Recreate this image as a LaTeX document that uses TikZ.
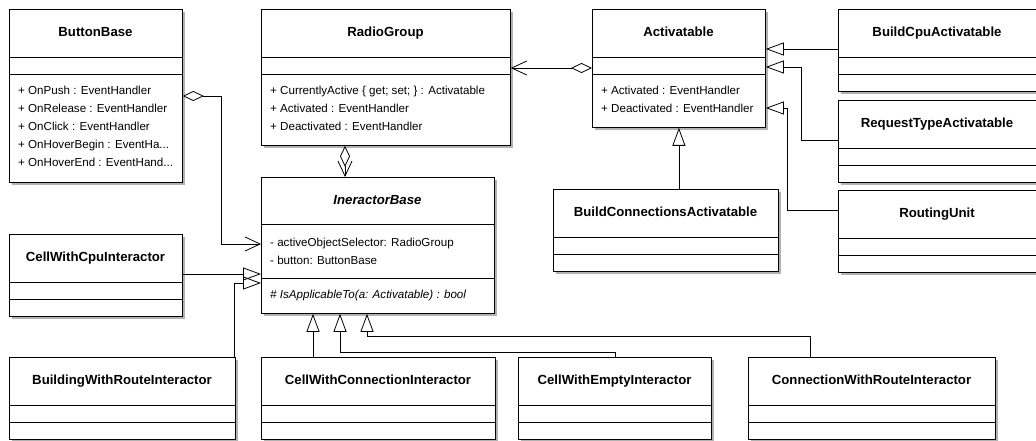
\documentclass[tikz,border=0pt]{standalone}
\usepackage{fontspec}
\setmainfont{Liberation Sans}
\usetikzlibrary{arrows.meta, shadows}
\tikzstyle{classbox} = [draw, fill=white, line width=0.8pt, inner sep=0pt, anchor=north west, drop shadow={shadow xshift=3pt, shadow yshift=-3pt, fill=black!30, opacity=1}]
\tikzstyle{classname} = [inner sep=0pt, text height=9.5pt, text depth=2.8pt, font=\fontsize{13.2}{15}\selectfont\bfseries]
\tikzstyle{member} = [anchor=west, inner sep=0pt, text height=8.4pt, text depth=2.4pt, font=\fontsize{11.6}{13}\selectfont]
\tikzstyle{divider} = [line width=0.8pt]
\tikzstyle{gen} = [line width=0.8pt, -{Triangle[open, length=18pt, width=13pt]}]
\tikzstyle{navaggr} = [line width=0.8pt, {Diamond[open, length=21pt, width=10pt]}-{Straight Barb[length=15pt, width=14pt]}]

\begin{document}
\begin{tikzpicture}[x=1pt, y=-1pt]
	\useasboundingbox (0,0) rectangle (1036,441);
	\clip (0,0) rectangle (1036,441);
	%ButtonBase
	\node[classbox, minimum width=173pt, minimum height=173pt] (btn) at (9,9) {};
	\node[classname] (btn-name) at (95.5,33) {ButtonBase};
	\draw[divider] (9,57) -- ++(173,0);
	\draw[divider] (9,74) -- ++(173,0);
	\node[member] (btn-a1) at (18,92) {+ OnPush : EventHandler};
	\node[member] (btn-a2) at (18,110) {+ OnRelease : EventHandler};
	\node[member] (btn-a3) at (18,128) {+ OnClick : EventHandler};
	\node[member] (btn-a4) at (18,146) {+ OnHoverBegin : EventHa...};
	\node[member] (btn-a5) at (18,164) {+ OnHoverEnd : EventHand...};
	%RadioGroup
	\node[classbox, minimum width=249pt, minimum height=136pt] (radio) at (261,9) {};
	\node[classname] (radio-name) at (385.5,33) {RadioGroup};
	\draw[divider] (261,57) -- ++(249,0);
	\draw[divider] (261,74) -- ++(249,0);
	\node[member] (radio-a1) at (270,92) {+ CurrentlyActive \{ get; set; \} : Activatable};
	\node[member] (radio-a2) at (270,110) {+ Activated : EventHandler};
	\node[member] (radio-a3) at (270,128) {+ Deactivated : EventHandler};
	%Activatable
	\node[classbox, minimum width=173pt, minimum height=118pt] (act) at (592,9) {};
	\node[classname] (act-name) at (678.5,33) {Activatable};
	\draw[divider] (592,57) -- ++(173,0);
	\draw[divider] (592,74) -- ++(173,0);
	\node[member] (act-a1) at (601,92) {+ Activated : EventHandler};
	\node[member] (act-a2) at (601,110) {+ Deactivated : EventHandler};
	%BuildCpuActivatable
	\node[classbox, minimum width=199pt, minimum height=82pt] (cpuact) at (838,9) {};
	\node[classname] (cpuact-name) at (937,33) {BuildCpuActivatable};
	\draw[divider] (838,57) -- ++(199,0);
	\draw[divider] (838,74) -- ++(199,0);
	%RequestTypeActivatable
	\node[classbox, minimum width=199pt, minimum height=82pt] (reqact) at (838,100) {};
	\node[classname] (reqact-name) at (937,124) {RequestTypeActivatable};
	\draw[divider] (838,148) -- ++(199,0);
	\draw[divider] (838,165) -- ++(199,0);
	%RoutingUnit
	\node[classbox, minimum width=199pt, minimum height=82pt] (route) at (838,190) {};
	\node[classname] (route-name) at (937,214) {RoutingUnit};
	\draw[divider] (838,238) -- ++(199,0);
	\draw[divider] (838,255) -- ++(199,0);
	%BuildConnectionsActivatable
	\node[classbox, minimum width=225pt, minimum height=82pt] (bca) at (553,189) {};
	\node[classname] (bca-name) at (665.5,213) {BuildConnectionsActivatable};
	\draw[divider] (553,237) -- ++(225,0);
	\draw[divider] (553,254) -- ++(225,0);
	%IneractorBase
	\node[classbox, minimum width=233pt, minimum height=136pt] (ib) at (261,177) {};
	\node[classname, font=\fontsize{13.2}{15}\selectfont\bfseries\itshape] (ib-name) at (377.5,201) {IneractorBase};
	\draw[divider] (261,224) -- ++(233,0);
	\draw[divider] (261,278) -- ++(233,0);
	\node[member] (ib-a1) at (270,243) {- activeObjectSelector: RadioGroup};
	\node[member] (ib-a2) at (270,261) {- button: ButtonBase};
	\node[member, font=\fontsize{11.6}{13}\selectfont\itshape] (ib-m1) at (270,295) {\# IsApplicableTo(a: Activatable) : bool};
	%CellWithCpuInteractor
	\node[classbox, minimum width=173pt, minimum height=82pt] (cwc) at (9,234) {};
	\node[classname] (cwc-name) at (95.5,258) {CellWithCpuInteractor};
	\draw[divider] (9,282) -- ++(173,0);
	\draw[divider] (9,299) -- ++(173,0);
	%BuildingWithRouteInteractor
	\node[classbox, minimum width=226pt, minimum height=82pt] (bwr) at (9,357) {};
	\node[classname] (bwr-name) at (122,381) {BuildingWithRouteInteractor};
	\draw[divider] (9,405) -- ++(226,0);
	\draw[divider] (9,422) -- ++(226,0);
	%CellWithConnectionInteractor
	\node[classbox, minimum width=234pt, minimum height=82pt] (cwconn) at (261,357) {};
	\node[classname] (cwconn-name) at (378,381) {CellWithConnectionInteractor};
	\draw[divider] (261,405) -- ++(234,0);
	\draw[divider] (261,422) -- ++(234,0);
	%CellWithEmptyInteractor
	\node[classbox, minimum width=193pt, minimum height=82pt] (cwe) at (518,357) {};
	\node[classname] (cwe-name) at (614.5,381) {CellWithEmptyInteractor};
	\draw[divider] (518,405) -- ++(193,0);
	\draw[divider] (518,422) -- ++(193,0);
	%ConnectionWithRouteInteractor
	\node[classbox, minimum width=247pt, minimum height=82pt] (cwr) at (748,357) {};
	\node[classname] (cwr-name) at (871.5,381) {ConnectionWithRouteInteractor};
	\draw[divider] (748,405) -- ++(247,0);
	\draw[divider] (748,422) -- ++(247,0);

	%Aggregations
	\draw[navaggr] ([yshift=-87pt]btn.north east) -| ([xshift=-40pt,yshift=-67pt]ib.north west) -- ([yshift=-67pt]ib.north west);
	\draw[navaggr] ([xshift=84pt]radio.south west) -- ([xshift=84pt]radio.south west |- ib.north);
	\draw[navaggr] ([yshift=-59pt]act.north west) -- ([yshift=-59pt]radio.north east);
	%Generalizations to Activatable
	\draw[gen] ([yshift=-40pt]cpuact.north west) -- ([yshift=-40pt]act.north east);
	\draw[gen] ([yshift=-40pt]reqact.north west) -| ([xshift=36pt,yshift=-58pt]act.north east) -- ([yshift=-58pt]act.north east);
	\draw[gen] ([yshift=-20pt]route.north west) -| ([xshift=22pt,yshift=-99pt]act.north east) -- ([yshift=-99pt]act.north east);
	\draw[gen] (bca.north -| act.south) -- (act.south);
	%Generalizations to IneractorBase
	\draw[gen] ([yshift=-40pt]cwc.north east) -- ([yshift=-40pt]cwc.north east -| ib.west);
	\draw[gen] ([xshift=-1pt]bwr.north east) |- ([yshift=-106pt]ib.north west);
	\draw[gen] ([xshift=52pt]cwconn.north west) -- ([xshift=52pt]ib.south west);
	\draw[gen] ([xshift=97pt]cwe.north west) |- ([xshift=79pt,yshift=-39pt]ib.south west) -- ([xshift=79pt]ib.south west);
	\draw[gen] ([xshift=62pt]cwr.north west) |- ([xshift=106pt,yshift=-23pt]ib.south west) -- ([xshift=106pt]ib.south west);

\end{tikzpicture}
\end{document}
